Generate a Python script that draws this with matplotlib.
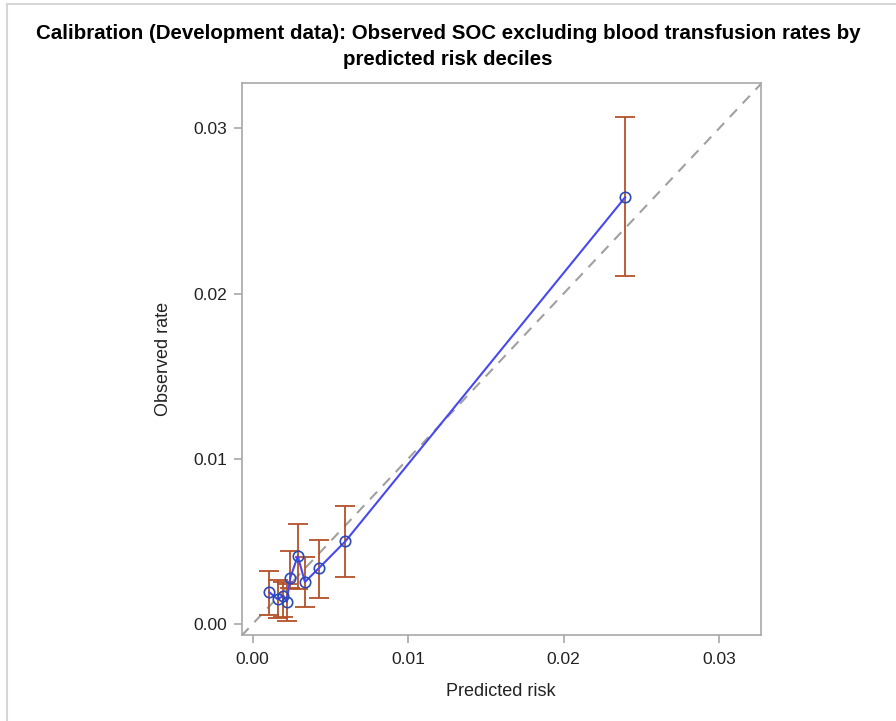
import matplotlib
matplotlib.use("Agg")
import matplotlib.pyplot as plt
from matplotlib.lines import Line2D

plt.rcParams['font.family'] = ['Liberation Sans', 'DejaVu Sans']

predicted = [0.00107, 0.00161, 0.00197, 0.00219, 0.00242, 0.00290, 0.00336, 0.00425, 0.00596, 0.02396]
observed = [0.00192, 0.00149, 0.00171, 0.00135, 0.00280, 0.00411, 0.00254, 0.00337, 0.00500, 0.02583]
upper = [0.00319, 0.00264, 0.00254, 0.00240, 0.00443, 0.00607, 0.00407, 0.00506, 0.00716, 0.03067]
lower = [0.00054, 0.00034, 0.00044, 0.00020, 0.00216, 0.00210, 0.00101, 0.00155, 0.00282, 0.02107]
ticks = [0.00, 0.01, 0.02, 0.03]
tick_labels = ["0.00", "0.01", "0.02", "0.03"]

fig = plt.figure(figsize=(8.96, 7.21), dpi=100)
ax = fig.add_axes([241.5/896, 86/721, (761-241.5)/896, (635-82.7)/721])

xlim = (-0.00072, 0.0327)
ylim = (-0.00067, 0.03277)
lo = min(xlim[0], ylim[0]); hi = max(xlim[1], ylim[1])
ax.plot([lo, hi], [lo, hi], linestyle=(0, (5, 4)), color='#A0A0A0', lw=1.5, zorder=1)

yerr = [[o - l for o, l in zip(observed, lower)], [u - o for o, u in zip(observed, upper)]]
ax.errorbar(predicted, observed, yerr=yerr, fmt='none', ecolor='#B5512A', elinewidth=1.3,
            capsize=7, capthick=1.3, zorder=2)
ax.plot(predicted, observed, color='#4848F0', lw=1.5, zorder=3)
ax.plot(predicted, observed, linestyle='none', marker='o', markersize=7.5,
        markerfacecolor='none', markeredgecolor='#2A4AB8', markeredgewidth=1.2, zorder=4)

ax.set_xlim(xlim)
ax.set_ylim(ylim)
ax.set_xticks(ticks)
ax.set_xticklabels(tick_labels)
ax.set_yticks(ticks)
ax.set_yticklabels(tick_labels)
for s in ax.spines.values():
    s.set_color('#A8A8A8')
    s.set_linewidth(1.2)
ax.tick_params(axis='both', direction='out', length=6, width=1.2, color='#A8A8A8',
               labelsize=12.5, labelcolor='#222222', pad=4)
ax.tick_params(axis='x', pad=6)
ax.set_xlabel("Predicted risk", fontsize=13, color='#222222', labelpad=12)
ax.set_ylabel("Observed rate", fontsize=13, color='#222222', labelpad=16)

fig.text(0.5, 1 - 24/721, "Calibration (Development data): Observed SOC excluding blood transfusion rates by\npredicted risk deciles",
         ha='center', va='top', fontsize=14.8, fontweight='bold', linespacing=1.45)

# light image border
fig.add_artist(Line2D([6.5/896, 6.5/896], [0, 1 - 4/721], transform=fig.transFigure, color='#D6D6D6', lw=1.5))
fig.add_artist(Line2D([6.5/896, 1], [1 - 4/721, 1 - 4/721], transform=fig.transFigure, color='#D6D6D6', lw=1.5))

fig.savefig("out.png", dpi=100)
